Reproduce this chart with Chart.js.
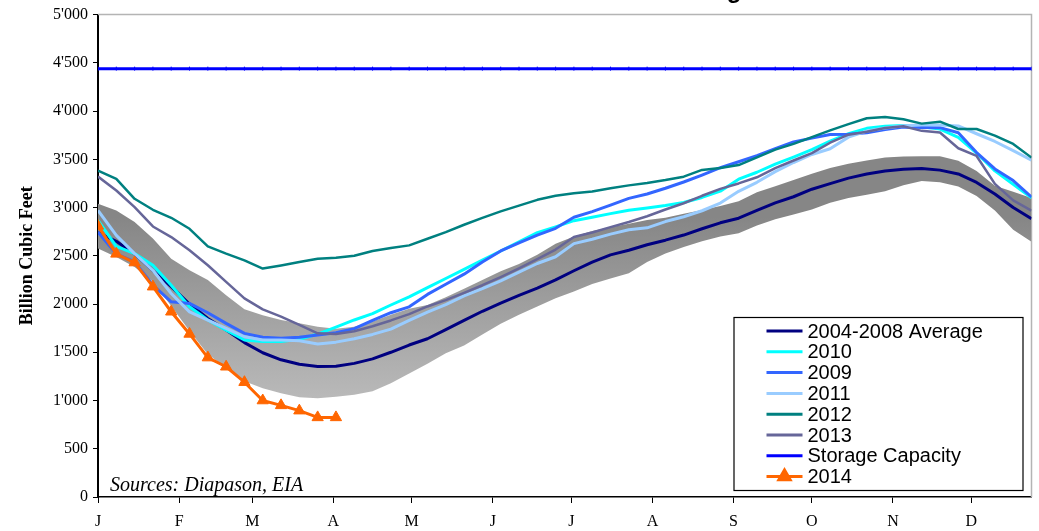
<!DOCTYPE html>
<html>
<head>
<meta charset="utf-8">
<title>Natural Gas Storage</title>
<script src="https://cdn.jsdelivr.net/npm/chart.js@4.4.1/dist/chart.umd.min.js"></script>
<style>
  html, body { margin: 0; padding: 0; background: #ffffff; }
  #wrap { width: 1039px; height: 531px; }
</style>
</head>
<body>
<div id="wrap"><canvas id="chart" width="1039" height="531"></canvas></div>
<script>
// Month initials on the x axis and the week (0 = first week of January) where each month starts
const monthLabels = ['J', 'F', 'M', 'A', 'M', 'J', 'J', 'A', 'S', 'O', 'N', 'D'];
const monthStartWeek = [0, 4.43, 8.43, 12.86, 17.14, 21.57, 25.86, 30.29, 34.71, 39.0, 43.43, 47.71];

// Weekly working gas in storage, billion cubic feet (52 weeks per year)
const avg0408 = [2740, 2650, 2520, 2350, 2180, 2000, 1850, 1730, 1600, 1495,
                 1422, 1376, 1352, 1356, 1385, 1432, 1500, 1575, 1640, 1735,
                 1830, 1925, 2010, 2090, 2165, 2250, 2345, 2435, 2510, 2557,
                 2615, 2662, 2715, 2780, 2842, 2890, 2970, 3048, 3112, 3190,
                 3248, 3305, 3348, 3380, 3398, 3404, 3388, 3348, 3260, 3140,
                 3000, 2885];
const rangeHigh = [3040, 2970, 2850, 2680, 2470, 2350, 2250, 2090, 1945, 1885,
                   1834, 1800, 1765, 1745, 1765, 1820, 1890, 1950, 1990, 2070,
                   2158, 2250, 2340, 2415, 2510, 2625, 2700, 2758, 2795, 2832,
                   2870, 2895, 2935, 2975, 3015, 3065, 3159, 3220, 3285, 3350,
                   3410, 3455, 3487, 3520, 3530, 3532, 3532, 3485, 3380, 3225,
                   3165, 3098];
const rangeLow = [2575, 2487, 2384, 2230, 1980, 1720, 1480, 1340, 1200, 1128,
                  1076, 1035, 1024, 1038, 1060, 1095, 1180, 1280, 1380, 1490,
                  1570, 1685, 1795, 1890, 1975, 2060, 2130, 2208, 2265, 2320,
                  2435, 2525, 2591, 2650, 2700, 2735, 2815, 2878, 2928, 2980,
                  3050, 3100, 3132, 3170, 3230, 3275, 3262, 3219, 3120, 2970,
                  2770, 2645];
const y2010 = [2867, 2598, 2523, 2402, 2195, 1971, 1834, 1730, 1627, 1612,
               1612, 1634, 1689, 1760, 1835, 1900, 1990, 2075, 2170, 2265,
               2360, 2455, 2550, 2645, 2740, 2800, 2864, 2900, 2937, 2973,
               2996, 3021, 3053, 3105, 3170, 3294, 3366, 3450, 3523, 3600,
               3688, 3766, 3821, 3843, 3851, 3838, 3813, 3728, 3565, 3380,
               3240, 3100];
const y2009 = [2746, 2520, 2436, 2195, 2023, 2006, 1910, 1800, 1696, 1655,
               1645, 1655, 1680, 1703, 1745, 1830, 1910, 1971, 2100, 2205,
               2310, 2435, 2550, 2635, 2715, 2785, 2900, 2958, 3025, 3095,
               3140, 3200, 3265, 3337, 3413, 3475, 3538, 3610, 3680, 3720,
               3758, 3760, 3776, 3810, 3834, 3830, 3828, 3776, 3570, 3400,
               3280, 3110];
const y2011 = [2970, 2712, 2523, 2350, 2109, 1919, 1834, 1748, 1661, 1627,
               1627, 1620, 1586, 1605, 1640, 1685, 1740, 1830, 1915, 1995,
               2085, 2160, 2240, 2330, 2420, 2490, 2626, 2672, 2725, 2770,
               2790, 2855, 2905, 2967, 3047, 3168, 3262, 3372, 3467, 3550,
               3610, 3730, 3793, 3824, 3848, 3855, 3856, 3846, 3765, 3685,
               3590, 3490];
const y2012 = [3383, 3297, 3091, 2977, 2894, 2780, 2598, 2523, 2453, 2368,
               2400, 2436, 2470, 2480, 2500, 2550, 2580, 2608, 2677, 2745,
               2822, 2893, 2960, 3020, 3080, 3122, 3148, 3167, 3200, 3230,
               3255, 3285, 3320, 3390, 3410, 3440, 3520, 3600, 3660, 3730,
               3800, 3865, 3925, 3939, 3915, 3870, 3890, 3814, 3814, 3745,
               3659, 3518];
const y2013 = [3321, 3177, 3004, 2804, 2694, 2557, 2402, 2229, 2058, 1944,
               1870, 1785, 1696, 1690, 1718, 1770, 1830, 1895, 1975, 2040,
               2116, 2195, 2280, 2370, 2465, 2565, 2694, 2742, 2797, 2850,
               2910, 2980, 3045, 3122, 3194, 3250, 3314, 3408, 3488, 3565,
               3672, 3755, 3786, 3825, 3842, 3795, 3778, 3615, 3535, 3245,
               3075, 2968];
const y2014 = [2810, 2520, 2430, 2180, 1920, 1690, 1445, 1350, 1190, 1000,
               950, 895, 825, 825];
const storageCapacity = 4440;

const serif = "'Liberation Serif', 'Times New Roman', serif";
const sans = "'Liberation Sans', Arial, sans-serif";

const toPoints = arr => arr.map((v, i) => ({ x: i, y: v }));
const capacityLine = avg0408.map((_, i) => ({ x: i, y: storageCapacity }));

function formatThousands(v) {
  if (v < 1000) return String(v);
  const th = Math.floor(v / 1000);
  const rest = String(v % 1000).padStart(3, '0');
  return th + "'" + rest;
}

// Grey range band: darker where storage is high, lighter near the bottom
function bandFill(context) {
  const chart = context.chart;
  const area = chart.chartArea;
  if (!area) return '#999999';
  const y = chart.scales.y;
  const g = chart.ctx.createLinearGradient(0, y.getPixelForValue(2900), 0, y.getPixelForValue(1000));
  g.addColorStop(0, '#868686');
  g.addColorStop(1, '#bababa');
  return g;
}

function lineSet(label, data, color, width, order) {
  return {
    label, data: toPoints(data), borderColor: color, backgroundColor: color,
    borderWidth: width, pointRadius: 0, fill: false, order, tension: 0
  };
}

const datasets = [
  {
    label: '2014', data: toPoints(y2014), borderColor: '#ff6600', backgroundColor: '#ff6600',
    borderWidth: 3, pointStyle: 'triangle', pointRadius: 6.5, pointBorderWidth: 1,
    pointBorderColor: '#ff6600', fill: false, order: 0, tension: 0
  },
  {
    label: 'Storage Capacity', data: capacityLine, borderColor: '#0000ff', backgroundColor: '#0000ff',
    borderWidth: 3, pointStyle: 'line', rotation: 90, pointRadius: 2, pointBorderWidth: 1,
    pointBorderColor: '#0000ff', fill: false, order: 1, tension: 0
  },
  lineSet('2013', y2013, '#666699', 2.5, 2),
  lineSet('2012', y2012, '#008080', 2.5, 3),
  lineSet('2011', y2011, '#99ccff', 3, 4),
  lineSet('2009', y2009, '#3366ff', 3, 5),
  lineSet('2010', y2010, '#00ffff', 3, 6),
  lineSet('2004-2008 Average', avg0408, '#000080', 3, 7),
  {
    label: 'range low', data: toPoints(rangeLow), borderWidth: 0, borderColor: 'rgba(0,0,0,0)',
    pointRadius: 0, fill: false, order: 9
  },
  {
    label: 'range high', data: toPoints(rangeHigh), borderWidth: 0, borderColor: 'rgba(0,0,0,0)',
    pointRadius: 0, fill: '-1', backgroundColor: bandFill, order: 8
  }
];

const legendOrder = ['2004-2008 Average', '2010', '2009', '2011', '2012', '2013', 'Storage Capacity', '2014'];

const decorations = {
  id: 'decorations',
  beforeDatasetsDraw(chart) {
    const { ctx, chartArea: a } = chart;
    ctx.save();
    ctx.strokeStyle = '#b4b4b4';
    ctx.lineWidth = 1.5;
    ctx.beginPath();
    ctx.moveTo(a.left, a.top);
    ctx.lineTo(a.right, a.top);
    ctx.lineTo(a.right, a.bottom);
    ctx.stroke();
    ctx.restore();
  },
  afterDraw(chart) {
    const { ctx, chartArea: a } = chart;
    ctx.save();

    // Chart heading, mostly above the canvas edge
    ctx.font = 'bold 24px ' + sans;
    ctx.fillStyle = '#000000';
    ctx.textBaseline = 'alphabetic';
    ctx.textAlign = 'left';
    const heading = 'Natural Gas Storage';
    const pre = ctx.measureText('Natural Gas Stora').width;
    const gw = ctx.measureText('g').width;
    ctx.fillText(heading, 734 - pre - gw / 2, -2);

    // Source note
    ctx.font = 'italic 20px ' + serif;
    ctx.fillText('Sources: Diapason, EIA', a.left + 12, a.bottom - 6);

    // Legend box
    const bx = a.right - 298, by = a.bottom - 180, bw = 289, bh = 173;
    ctx.fillStyle = '#ffffff';
    ctx.fillRect(bx, by, bw, bh);
    ctx.strokeStyle = '#000000';
    ctx.lineWidth = 1.2;
    ctx.strokeRect(bx + 0.5, by + 0.5, bw, bh);

    ctx.font = '20px ' + sans;
    ctx.textBaseline = 'middle';
    legendOrder.forEach((name, k) => {
      const ds = chart.data.datasets.find(d => d.label === name);
      const cy = by + 14 + k * 20.8;
      const x0 = bx + 33, x1 = bx + 69;
      ctx.strokeStyle = ds.borderColor;
      ctx.lineWidth = 3;
      ctx.beginPath();
      ctx.moveTo(x0, cy);
      ctx.lineTo(x1, cy);
      ctx.stroke();
      if (ds.pointStyle === 'triangle') {
        Chart.helpers.drawPoint(ctx, { pointStyle: 'triangle', radius: 6.5, borderWidth: 1 }, (x0 + x1) / 2, cy);
        ctx.fillStyle = ds.backgroundColor;
        ctx.fill();
      }
      ctx.fillStyle = '#000000';
      ctx.fillText(name, x1 + 5, cy + 1);
    });
    ctx.restore();
  }
};

new Chart(document.getElementById('chart'), {
  type: 'line',
  data: { datasets },
  options: {
    responsive: false,
    animation: false,
    layout: { padding: { top: 13, right: 4, left: 0, bottom: 0 } },
    plugins: {
      legend: { display: false },
      tooltip: { enabled: false },
      filler: { drawTime: 'beforeDatasetDraw' }
    },
    elements: { line: { borderJoinStyle: 'round', borderCapStyle: 'butt' } },
    scales: {
      x: {
        type: 'linear', min: 0, max: 51,
        afterBuildTicks(scale) { scale.ticks = monthStartWeek.map(v => ({ value: v })); },
        afterFit(scale) {
          scale.height = 34;
          scale.paddingLeft = 0;
          scale.paddingRight = 0;
        },
        ticks: {
          autoSkip: false, maxRotation: 0, padding: 9, color: '#000000',
          font: { family: serif, size: 16 },
          callback: (v, i) => monthLabels[i]
        },
        grid: { display: true, drawOnChartArea: false, drawTicks: true, tickLength: 6, color: '#000000', lineWidth: 1 },
        border: { display: true, color: '#000000', width: 1.5 }
      },
      y: {
        min: 0, max: 5000,
        afterFit(scale) { scale.width = 98; },
        ticks: {
          stepSize: 500, padding: 5, color: '#000000',
          font: { family: serif, size: 16 },
          callback: v => formatThousands(v)
        },
        title: {
          display: true, text: 'Billion Cubic Feet', color: '#000000',
          font: { family: serif, size: 18, weight: 'bold' },
          padding: { top: 17, bottom: 0 }
        },
        grid: { display: true, drawOnChartArea: false, drawTicks: true, tickLength: 5, color: '#000000', lineWidth: 1 },
        border: { display: true, color: '#000000', width: 2 }
      }
    }
  },
  plugins: [decorations]
});
</script>
</body>
</html>
